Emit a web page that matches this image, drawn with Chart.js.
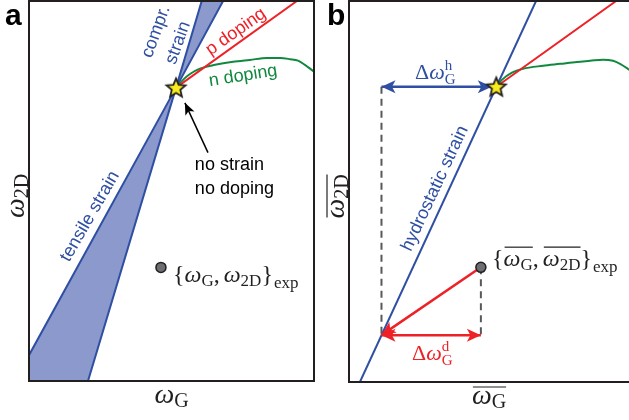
<!DOCTYPE html>
<html>
<head>
<meta charset="utf-8">
<script src="https://cdn.jsdelivr.net/npm/chart.js@4.4.0/dist/chart.umd.min.js"></script>
<style>
  html, body { margin: 0; padding: 0; background: #fff; }
  #wrap { position: relative; width: 629px; height: 420px; overflow: hidden; }
  #chartA { position: absolute; left: 0; top: 0; }
  #chartB { position: absolute; left: 320px; top: 0; }
</style>
</head>
<body>
<div id="wrap">
  <canvas id="chartA" width="322" height="420"></canvas>
  <canvas id="chartB" width="309" height="420"></canvas>
</div>
<script>
// ---- data (arbitrary units, both axes 0..100) ----
// panel a
const starA = [{x: 51.6, y: 77.2}];
const strainEdge1 = [{x: 0, y: 6.8}, {x: 51.6, y: 77.2}, {x: 68.1, y: 100}];
const strainEdge2 = [{x: 20.7, y: 0}, {x: 51.6, y: 77.2}, {x: 60.6, y: 100}];
const tensileWedge = [{x: 0, y: 0}, {x: 0, y: 6.8}, {x: 51.6, y: 77.2}, {x: 20.7, y: 0}];
const comprWedge = [{x: 51.6, y: 77.2}, {x: 60.6, y: 100}, {x: 68.1, y: 100}];
const pDopingA = [{x: 51.6, y: 77.2}, {x: 94.0, y: 100}];
const nDopingA = [
  {x: 51.6, y: 77.2}, {x: 54.4, y: 79.5}, {x: 56.5, y: 80.8}, {x: 60.0, y: 82.2},
  {x: 65.3, y: 83.2}, {x: 71.6, y: 84.0}, {x: 77.5, y: 84.5}, {x: 83.5, y: 85.0},
  {x: 88.1, y: 85.0}, {x: 91.6, y: 84.7}, {x: 94.4, y: 84.3}, {x: 96.8, y: 83.2},
  {x: 98.6, y: 82.2}, {x: 100, y: 81.4}
];
const expPointA = [{x: 46.3, y: 29.9}];
const pointerA = [{x: 62.8, y: 60.1}, {x: 54.7, y: 73.2}];

// panel b
const starB = [{x: 52.6, y: 77.5}];
const hydroLine = [{x: 3.9, y: 0}, {x: 66.8, y: 100}];
const pDopingB = [{x: 52.6, y: 77.5}, {x: 95.4, y: 100}];
const nDopingB = [
  {x: 52.6, y: 77.5}, {x: 54.6, y: 79.3}, {x: 58.2, y: 81.2}, {x: 62.1, y: 82.2},
  {x: 69.3, y: 83.0}, {x: 75.4, y: 83.5}, {x: 81.4, y: 84.0}, {x: 86.1, y: 84.3},
  {x: 90.7, y: 84.6}, {x: 94.3, y: 84.3}, {x: 96.8, y: 83.5}, {x: 99.6, y: 82.2},
  {x: 101.1, y: 81.4}
];
const expPointB = [{x: 47.1, y: 30.1}];
const hydroShift = [{x: 11.6, y: 77.5}, {x: 51.0, y: 77.5}];
const dopingShift = [{x: 11.6, y: 12.3}, {x: 47.1, y: 12.3}];
const dopingPath = [{x: 47.1, y: 30.1}, {x: 11.6, y: 12.3}];
const dropLeft = [{x: 11.6, y: 77.5}, {x: 11.6, y: 12.3}];
const dropRight = [{x: 47.1, y: 30.1}, {x: 47.1, y: 12.3}];

// ---- styles ----
const BLUE = '#2f4fa2', WEDGE = '#8b99cc', RED = '#ee2127', GREEN = '#10893e';
const INK = '#231f20', GREY = '#58595b', DOT = '#6d6e71';
const SANS = "'Liberation Sans', Arial, sans-serif";
const SERIF = "'Liberation Serif', 'DejaVu Serif', serif";
const it = s => `italic ${s}px ${SERIF}`;
const rm = s => `${s}px ${SERIF}`;

function makeStar(r) {
  const s = Math.ceil(r * 2 + 4);
  const c = document.createElement('canvas');
  c.width = c.height = s;
  const g = c.getContext('2d');
  g.translate(s / 2, s / 2 + r * 0.08);
  g.beginPath();
  for (let i = 0; i < 10; i++) {
    const rad = i % 2 ? r * 0.45 : r;
    const ang = -Math.PI / 2 + i * Math.PI / 5;
    g.lineTo(rad * Math.cos(ang), rad * Math.sin(ang));
  }
  g.closePath();
  g.fillStyle = '#f7ec1e';
  g.fill();
  g.lineWidth = 1.8;
  g.strokeStyle = INK;
  g.stroke();
  return c;
}
const starImg = makeStar(10);

const line = (data, color, extra) => Object.assign({
  data, showLine: true, borderColor: color, borderWidth: 2,
  pointRadius: 0, fill: false, order: 3
}, extra);

const wedge = data => ({
  data, showLine: true, borderWidth: 0, borderColor: WEDGE,
  backgroundColor: WEDGE, pointRadius: 0, fill: 'shape', order: 5
});

const starSet = data => ({
  data, pointStyle: starImg, pointRadius: 10, order: 0
});

const dotSet = data => ({
  data, pointRadius: 5, backgroundColor: DOT, borderColor: INK,
  pointBorderWidth: 1.5, order: 1
});

// ---- annotation helpers ----
function head(ctx, tip, from, len, half) {
  const a = Math.atan2(tip.y - from.y, tip.x - from.x);
  ctx.save();
  ctx.translate(tip.x, tip.y);
  ctx.rotate(a);
  ctx.beginPath();
  ctx.moveTo(0, 0);
  ctx.lineTo(-len, -half);
  ctx.lineTo(-len * 0.75, 0);
  ctx.lineTo(-len, half);
  ctx.closePath();
  ctx.fill();
  ctx.restore();
}

function drawRuns(ctx, runs, x, y, align, barY) {
  let w = 0;
  for (const r of runs) {
    ctx.font = r.f;
    r.w = ctx.measureText(r.t).width;
    if (!r.stay) w += r.w + (r.gap || 0);
  }
  let cx = align === 'center' ? x - w / 2 : x;
  const bars = {};
  ctx.textAlign = 'left';
  ctx.textBaseline = 'alphabetic';
  for (const r of runs) {
    ctx.font = r.f;
    ctx.fillText(r.t, cx, y + (r.dy || 0));
    if (r.bar) {
      const b = bars[r.bar] || (bars[r.bar] = {a: cx, b: cx});
      b.b = cx + r.w;
    }
    if (!r.stay) cx += r.w + (r.gap || 0);
  }
  ctx.lineWidth = 1.2;
  for (const k in bars) {
    ctx.beginPath();
    ctx.moveTo(bars[k].a + 1, y + barY);
    ctx.lineTo(bars[k].b, y + barY);
    ctx.stroke();
  }
}

function notes(cfg) {
  return {
    id: 'notes',
    afterDatasetDraw(chart, args) {
      const ds = chart.data.datasets[args.index];
      if (!ds.arrows) return;
      const pts = args.meta.data;
      const ctx = chart.ctx;
      const [len, half] = ds.arrowSize || [14, 6.5];
      ctx.save();
      ctx.fillStyle = ds.borderColor;
      if (ds.arrows.includes('start')) head(ctx, pts[0], pts[1], len, half);
      if (ds.arrows.includes('end')) head(ctx, pts[pts.length - 1], pts[pts.length - 2], len, half);
      ctx.restore();
    },
    afterDatasetsDraw(chart) {
      const ctx = chart.ctx, xs = chart.scales.x, ys = chart.scales.y, a = chart.chartArea;
      ctx.save();
      // frame
      ctx.strokeStyle = INK;
      ctx.lineWidth = 2;
      ctx.beginPath();
      if (cfg.openRight) {
        ctx.moveTo(chart.width, a.top);
        ctx.lineTo(a.left, a.top);
        ctx.lineTo(a.left, a.bottom);
        ctx.lineTo(chart.width, a.bottom);
      } else {
        ctx.rect(a.left, a.top, a.right - a.left, a.bottom - a.top);
      }
      ctx.stroke();

      // panel letter
      ctx.fillStyle = '#000';
      ctx.font = `bold 30px ${SANS}`;
      ctx.textAlign = 'left';
      ctx.textBaseline = 'alphabetic';
      ctx.fillText(cfg.letter, cfg.letterX, 25);

      // axis titles
      ctx.fillStyle = INK;
      ctx.strokeStyle = INK;
      drawRuns(ctx, cfg.xTitle, (a.left + a.right) / 2, a.bottom + 22, 'center', -17);
      ctx.save();
      ctx.translate(a.left - 5, (a.top + a.bottom) / 2 + 5);
      ctx.rotate(-Math.PI / 2);
      drawRuns(ctx, cfg.yTitle, 0, 0, 'center', -17);
      ctx.restore();

      // in-plot labels
      for (const n of cfg.items) {
        const px = xs.getPixelForValue(n.x), py = ys.getPixelForValue(n.y);
        ctx.save();
        ctx.fillStyle = n.color;
        ctx.strokeStyle = n.color;
        ctx.translate(px, py);
        if (n.rot) ctx.rotate(n.rot * Math.PI / 180);
        if (n.math) {
          drawRuns(ctx, n.math, 0, 0, n.align || 'left', n.barY || -17);
        } else {
          ctx.font = `18px ${SANS}`;
          ctx.textAlign = n.align || 'center';
          ctx.textBaseline = n.base || 'middle';
          ctx.fillText(n.text, 0, 0);
        }
        ctx.restore();
      }
      ctx.restore();
    }
  };
}

const expA = [
  {t: '{', f: rm(24)}, {t: 'ω', f: it(24)}, {t: 'G', f: rm(17), dy: 4},
  {t: ',', f: rm(24), gap: 4}, {t: 'ω', f: it(24)}, {t: '2D', f: rm(17), dy: 4},
  {t: '}', f: rm(24), gap: 1}, {t: 'exp', f: rm(17), dy: 6}
];
const expB = [
  {t: '{', f: rm(24)}, {t: 'ω', f: it(24), bar: 1}, {t: 'G', f: rm(17), dy: 4, bar: 1},
  {t: ',', f: rm(24), gap: 4}, {t: 'ω', f: it(24), bar: 2}, {t: '2D', f: rm(17), dy: 4, bar: 2},
  {t: '}', f: rm(24), gap: 1}, {t: 'exp', f: rm(17), dy: 6}
];
const deltaH = [
  {t: 'Δ', f: rm(22)}, {t: 'ω', f: it(22)},
  {t: 'h', f: rm(15), dy: -9, stay: true}, {t: 'G', f: rm(15), dy: 5}
];
const deltaD = [
  {t: 'Δ', f: rm(22)}, {t: 'ω', f: it(22)},
  {t: 'd', f: rm(15), dy: -9, stay: true}, {t: 'G', f: rm(15), dy: 5}
];

const notesA = [
  {x: 44.6, y: 91.9, rot: -70, text: 'compr.', color: BLUE},
  {x: 52.3, y: 89.0, rot: -70, text: 'strain', color: BLUE},
  {x: 21.4, y: 43.3, rot: -60, text: 'tensile strain', color: BLUE},
  {x: 72.6, y: 91.9, rot: -35, text: 'p doping', color: RED},
  {x: 75.1, y: 80.3, rot: -9, text: 'n doping', color: GREEN},
  {x: 58.2, y: 55.4, text: 'no strain', color: '#000', align: 'left', base: 'alphabetic'},
  {x: 58.2, y: 49.3, text: 'no doping', color: '#000', align: 'left', base: 'alphabetic'},
  {x: 50.5, y: 26.0, math: expA, color: INK}
];
const notesB = [
  {x: 30.7, y: 50.8, rot: -65, text: 'hydrostatic strain', color: BLUE},
  {x: 23.6, y: 79.6, math: deltaH, color: BLUE},
  {x: 22.5, y: 5.8, math: deltaD, color: RED},
  {x: 51.1, y: 30.4, math: expB, color: INK, barY: -19}
];

const axes = {
  x: {type: 'linear', min: 0, max: 100, display: false},
  y: {type: 'linear', min: 0, max: 100, display: false}
};
const common = {
  responsive: false,
  animation: false,
  events: [],
  scales: axes,
  plugins: {legend: {display: false}, tooltip: {enabled: false}}
};

new Chart(document.getElementById('chartA'), {
  type: 'scatter',
  data: {
    datasets: [
      starSet(starA),
      dotSet(expPointA),
      line(pointerA, '#000', {borderWidth: 1.5, arrows: ['end'], arrowSize: [12, 5], order: 2}),
      line(pDopingA, RED),
      line(nDopingA, GREEN, {cubicInterpolationMode: 'monotone'}),
      line(strainEdge1, BLUE, {order: 4}),
      line(strainEdge2, BLUE, {order: 4}),
      wedge(tensileWedge),
      wedge(comprWedge)
    ]
  },
  options: Object.assign({}, common, {
    layout: {autoPadding: false, padding: {left: 29, right: 8, top: 1, bottom: 39}}
  }),
  plugins: [notes({
    letter: 'a', letterX: 5, items: notesA,
    xTitle: [{t: 'ω', f: it(28)}, {t: 'G', f: rm(20), dy: 4}],
    yTitle: [{t: 'ω', f: it(28)}, {t: '2D', f: rm(20), dy: 4}]
  })]
});

new Chart(document.getElementById('chartB'), {
  type: 'scatter',
  data: {
    datasets: [
      starSet(starB),
      dotSet(expPointB),
      line(hydroShift, BLUE, {borderWidth: 2.5, arrows: ['start', 'end'], order: 2}),
      line(dopingShift, RED, {borderWidth: 2.5, arrows: ['start', 'end'], order: 2}),
      line(dopingPath, RED, {borderWidth: 2.5, arrows: ['end'], order: 2}),
      line(dropLeft, GREY, {borderDash: [7, 5], order: 3}),
      line(dropRight, GREY, {borderDash: [7, 5], order: 3}),
      line(pDopingB, RED),
      line(nDopingB, GREEN, {cubicInterpolationMode: 'monotone'}),
      line(hydroLine, BLUE, {order: 4})
    ]
  },
  options: Object.assign({}, common, {
    layout: {autoPadding: false, padding: {left: 29, right: 0, top: 1, bottom: 38}}
  }),
  plugins: [notes({
    letter: 'b', letterX: 7, items: notesB, openRight: true,
    xTitle: [{t: 'ω', f: it(28), bar: 1}, {t: 'G', f: rm(20), dy: 4, bar: 1}],
    yTitle: [{t: 'ω', f: it(28), bar: 1}, {t: '2D', f: rm(20), dy: 4, bar: 1}]
  })]
});
</script>
</body>
</html>
